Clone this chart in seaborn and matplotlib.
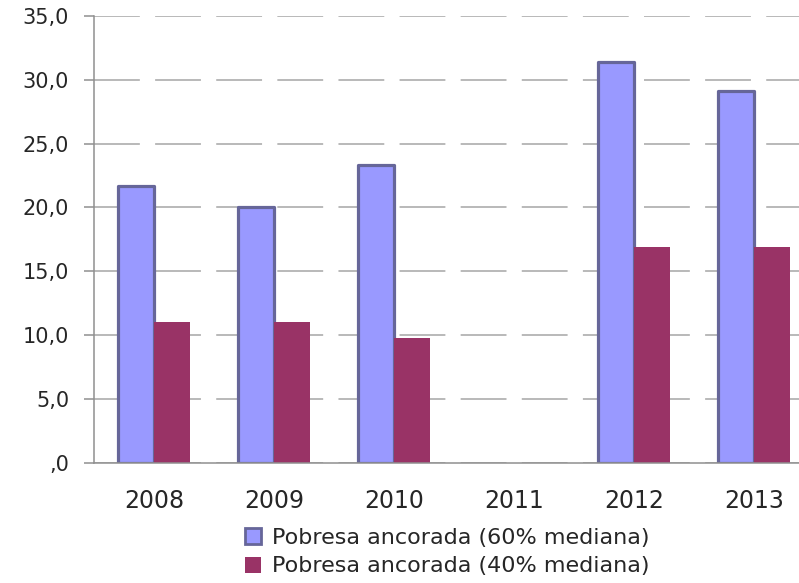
import pandas as pd
import matplotlib.pyplot as plt
import matplotlib.patches as mpatches
from matplotlib.ticker import FixedLocator
import seaborn as sns
import numpy as np

# Datos
anios = ["2008", "2009", "2010", "2011", "2012", "2013"]
pobreza_60 = [21.7, 20.0, 23.3, np.nan, 31.4, 29.1]
pobreza_40 = [11.0, 11.0, 9.8, np.nan, 16.9, 16.9]
series = ["Pobresa ancorada (60% mediana)", "Pobresa ancorada (40% mediana)"]
yticks = [0, 5, 10, 15, 20, 25, 30, 35]
ytick_labels = [",0", "5,0", "10,0", "15,0", "20,0", "25,0", "30,0", "35,0"]

colores = {series[0]: "#9999FF", series[1]: "#993366"}
borde_azul = "#666699"

df = pd.DataFrame({
    "anio": anios * 2,
    "serie": [series[0]] * len(anios) + [series[1]] * len(anios),
    "valor": pobreza_60 + pobreza_40,
})

sns.set_style("white")
plt.rcParams['font.family'] = ['DejaVu Sans']

fig = plt.figure(figsize=(7.99, 5.83), dpi=100)
ax = fig.add_axes([94 / 799, 1 - 462.7 / 583, 720 / 799, (462.7 - 16) / 583])

grafico = sns.barplot(
    data=df, x="anio", y="valor", hue="serie",
    order=anios, hue_order=series, palette=colores,
    width=0.6, gap=0, saturation=1, ax=ax, legend=False,
)

# borde de la serie azul
for p in grafico.containers[0]:
    p.set_edgecolor(borde_azul)
    p.set_linewidth(2.3)
    p.set_joinstyle("round")
for p in grafico.containers[1]:
    p.set_linewidth(0)

ax.set_xlim(-0.5, 5.5)
ax.set_ylim(0, 35)
ax.set_yticks(yticks)
ax.set_yticklabels(ytick_labels, fontsize=15)
ax.set_xticks(range(len(anios)))
ax.set_xticklabels(anios, fontsize=17)
ax.xaxis.set_minor_locator(FixedLocator(np.arange(-0.5, 6.0, 1.0)))
ax.tick_params(axis="x", which="major", length=0, pad=19)
ax.tick_params(axis="x", which="minor", length=5, width=1.1, color="#909090", direction="out")
ax.tick_params(axis="y", length=7, width=1.1, color="#909090", direction="out", pad=11, left=True)
ax.set_xlabel("")
ax.set_ylabel("")

ax.yaxis.grid(True, color="#a6a6a6", linewidth=1.1, linestyle=(0, (30, 10)))
ax.xaxis.grid(False)
ax.set_axisbelow(True)

sns.despine(ax=ax, top=True, right=True)
for lado in ["left", "bottom"]:
    ax.spines[lado].set_color("#909090")
    ax.spines[lado].set_linewidth(1.1)

handles = [
    mpatches.Patch(facecolor=colores[series[0]], edgecolor=borde_azul, linewidth=2),
    mpatches.Patch(facecolor=colores[series[1]], edgecolor=colores[series[1]], linewidth=0),
]
fig.legend(handles, series, loc="upper left", bbox_to_anchor=(245 / 799, 1 - 528 / 583),
           frameon=False, fontsize=16, handlelength=0.72, handleheight=0.72,
           handletextpad=0.5, labelspacing=0.38, borderpad=0, borderaxespad=0)

fig.savefig("out.png", dpi=100)
plt.close()
